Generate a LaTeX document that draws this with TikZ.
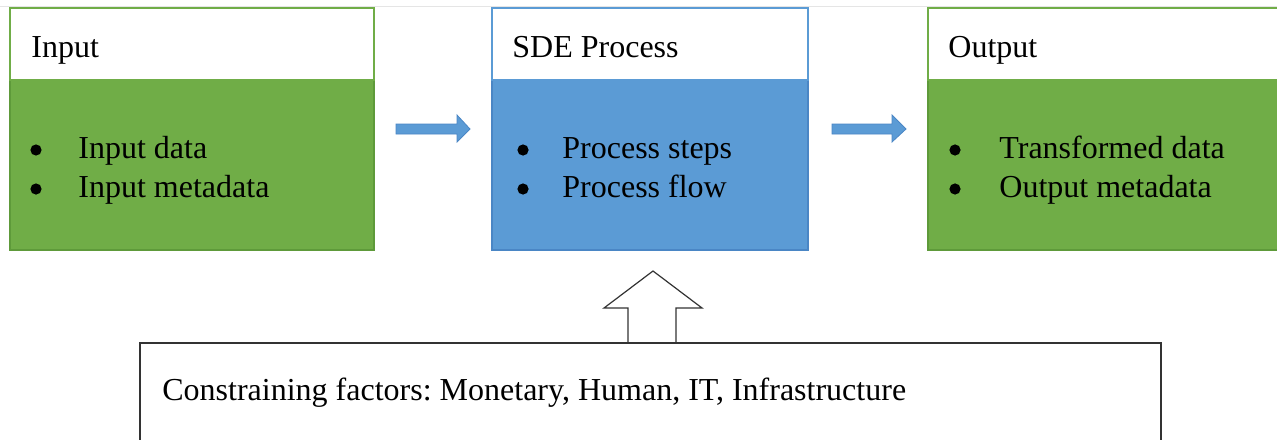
\documentclass[tikz,border=0pt]{standalone}
\usepackage{fontspec}
\setmainfont{Liberation Serif}
\definecolor{boxgreen}{HTML}{70AD47}
\definecolor{boxblue}{HTML}{5B9BD5}
\definecolor{greenedge}{HTML}{5E9A3A}
\definecolor{blueedge}{HTML}{4A86C5}
\begin{document}
\frenchspacing
\begin{tikzpicture}[x=0.5pt,y=-0.5pt,
  txt/.style={font=\fontsize{16}{19}\selectfont, inner sep=0pt, anchor=base west, text=black},
  bul/.style={circle, fill=black, inner sep=0pt, minimum size=5.6pt},
  blockarrow/.style={fill=boxblue, draw=blueedge, line width=0.4pt},
  hollowarrow/.style={fill=white, draw=black!80, line width=0.6pt, line join=miter}]
\useasboundingbox (0,0) rectangle (1277,439);
\fill[white] (0,0) rectangle (1277,439);
\draw[black!10, line width=0.5pt] (0,6) -- (1277,6);
% Input box
\path[fill=boxgreen, draw=greenedge, line width=0.6pt] (10,80) rectangle (374,250);
\path[fill=white, draw=boxgreen, line width=0.6pt] (10,8) rectangle (374,80);
\node[txt] (inh) at (31,57) {Input};
\node[bul] (inb1) at (36,150) {};
\node[txt] (in1) at (78,158) {Input data};
\node[bul] (inb2) at (36,189) {};
\node[txt] (in2) at (78,197) {Input metadata};
% SDE box
\path[fill=boxblue, draw=blueedge, line width=0.6pt] (492,80) rectangle (808,250);
\path[fill=white, draw=boxblue, line width=0.6pt] (492,8) rectangle (808,80);
\node[txt] (sdeh) at (512,57) {SDE Process};
\node[bul] (sdeb1) at (523,150) {};
\node[txt] (sde1) at (562,158) {Process steps};
\node[bul] (sdeb2) at (523,189) {};
\node[txt] (sde2) at (562,197) {Process flow};
% Output box
\path[fill=boxgreen, draw=greenedge, line width=0.6pt] (928,80) rectangle (1282,250);
\path[fill=white, draw=boxgreen, line width=0.6pt] (928,8) rectangle (1282,80);
\node[txt] (outh) at (948,57) {Output};
\node[bul] (outb1) at (955,150) {};
\node[txt] (out1) at (999,158) {Transformed data};
\node[bul] (outb2) at (955,189) {};
\node[txt] (out2) at (999,197) {Output metadata};
% block arrows
\draw[blockarrow] (396,124) -- (457,124) -- (457,115) -- (470,129) -- (457,142) -- (457,134) -- (396,134) -- cycle;
\draw[blockarrow] (832,124) -- (892,124) -- (892,115) -- (906,129) -- (892,142) -- (892,134) -- (832,134) -- cycle;
% hollow up arrow
\draw[hollowarrow] (628,343) -- (628,308) -- (604,308) -- (653,271) -- (702,308) -- (676,308) -- (676,343) -- cycle;
% constraints box
\draw[black!80, line width=0.8pt] (140,445) -- (140,343) -- (1161,343) -- (1161,445);
\node[txt] (cons) at (162,400) {Constraining factors: Monetary, Human, IT, Infrastructure};
\end{tikzpicture}
\end{document}
